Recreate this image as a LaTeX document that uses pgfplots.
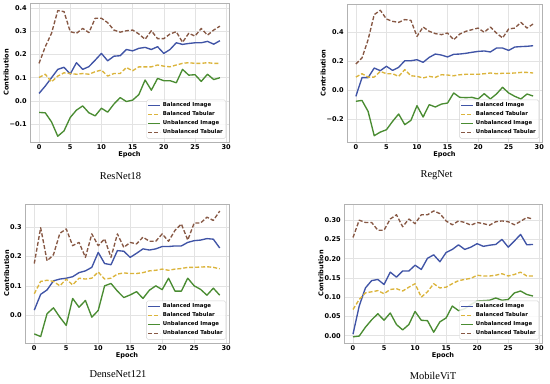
\documentclass[border=0pt]{standalone}
\usepackage{pgfplots}
\usepackage{pgfplotstable}
\pgfplotsset{compat=1.18}
\usepackage{fontspec}
\setmainfont{DejaVu Sans}
\newfontfamily\titlefont{Liberation Serif}

\definecolor{cBI}{RGB}{64,84,166}
\definecolor{cBT}{RGB}{219,180,60}
\definecolor{cUI}{RGB}{74,140,50}
\definecolor{cUT}{RGB}{135,88,68}

% epoch, balanced image, balanced tabular, unbalanced image, unbalanced tabular
\pgfplotstableread{
e bi bt ui ut
0 0.032 0.101 -0.050 0.162
1 0.064 0.115 -0.052 0.234
2 0.100 0.082 -0.091 0.292
3 0.136 0.107 -0.153 0.390
4 0.145 0.121 -0.130 0.386
5 0.116 0.118 -0.072 0.299
6 0.165 0.115 -0.040 0.292
7 0.136 0.118 -0.022 0.313
8 0.148 0.115 -0.052 0.295
9 0.176 0.126 -0.065 0.357
10 0.205 0.133 -0.032 0.357
11 0.173 0.107 -0.049 0.338
12 0.193 0.118 -0.014 0.306
13 0.195 0.118 0.014 0.297
14 0.222 0.144 -0.003 0.303
15 0.216 0.130 0.003 0.306
16 0.227 0.147 0.027 0.289
17 0.231 0.147 0.090 0.266
18 0.222 0.147 0.046 0.303
19 0.234 0.155 0.097 0.269
20 0.205 0.150 0.087 0.269
21 0.222 0.147 0.087 0.289
22 0.251 0.155 0.078 0.299
23 0.244 0.162 0.136 0.253
24 0.248 0.165 0.111 0.292
25 0.251 0.162 0.113 0.280
26 0.251 0.162 0.084 0.313
27 0.257 0.165 0.115 0.284
28 0.245 0.162 0.092 0.306
29 0.260 0.162 0.100 0.323
}\resnet

\pgfplotstableread{
e bi bt ui ut
0 -0.041 0.091 -0.075 0.181
1 0.087 0.114 -0.069 0.222
2 0.087 0.091 -0.144 0.347
3 0.153 0.091 -0.311 0.519
4 0.135 0.130 -0.286 0.549
5 0.165 0.114 -0.270 0.489
6 0.137 0.114 -0.213 0.473
7 0.158 0.096 -0.162 0.466
8 0.203 0.142 -0.235 0.485
9 0.203 0.100 -0.206 0.480
10 0.210 0.096 -0.105 0.370
11 0.192 0.085 -0.183 0.434
12 0.226 0.096 -0.098 0.405
13 0.249 0.089 -0.114 0.389
14 0.242 0.107 -0.094 0.382
15 0.229 0.105 -0.087 0.393
16 0.247 0.100 -0.018 0.347
17 0.249 0.107 -0.048 0.386
18 0.254 0.110 -0.050 0.405
19 0.261 0.110 -0.048 0.416
20 0.267 0.110 -0.059 0.427
21 0.270 0.114 -0.023 0.398
22 0.263 0.119 -0.059 0.434
23 0.290 0.114 -0.025 0.393
24 0.290 0.117 0.021 0.359
25 0.274 0.117 -0.018 0.421
26 0.297 0.119 -0.041 0.427
27 0.300 0.123 -0.059 0.466
28 0.302 0.123 -0.025 0.427
29 0.306 0.119 -0.039 0.455
}\regnet

\pgfplotstableread{
e bi bt ui ut
0 0.017 0.073 -0.064 0.176
1 0.071 0.115 -0.073 0.298
2 0.086 0.119 0.005 0.185
3 0.117 0.115 0.025 0.206
4 0.123 0.100 -0.007 0.279
5 0.126 0.123 -0.035 0.294
6 0.131 0.103 0.057 0.237
7 0.145 0.126 0.027 0.248
8 0.151 0.123 0.050 0.197
9 0.163 0.126 -0.007 0.277
10 0.214 0.147 0.016 0.237
11 0.176 0.123 0.100 0.260
12 0.172 0.126 0.108 0.197
13 0.220 0.140 0.082 0.277
14 0.218 0.144 0.060 0.231
15 0.197 0.142 0.069 0.248
16 0.211 0.142 0.080 0.243
17 0.226 0.145 0.057 0.266
18 0.222 0.151 0.085 0.252
19 0.226 0.153 0.100 0.252
20 0.234 0.157 0.087 0.277
21 0.234 0.153 0.126 0.252
22 0.236 0.157 0.082 0.289
23 0.236 0.159 0.082 0.311
24 0.248 0.163 0.126 0.256
25 0.254 0.163 0.100 0.314
26 0.256 0.164 0.088 0.314
27 0.261 0.165 0.068 0.334
28 0.259 0.163 0.092 0.323
29 0.229 0.158 0.068 0.355
}\densenet

\pgfplotstableread{
e bi bt ui ut
0 0.004 0.068 -0.003 0.255
1 0.077 0.094 -0.001 0.300
2 0.124 0.111 0.022 0.294
3 0.143 0.114 0.041 0.294
4 0.146 0.117 0.057 0.274
5 0.133 0.109 0.040 0.274
6 0.165 0.120 0.059 0.303
7 0.152 0.122 0.029 0.314
8 0.168 0.116 0.015 0.283
9 0.168 0.126 0.029 0.303
10 0.183 0.135 0.063 0.291
11 0.172 0.100 0.040 0.314
12 0.201 0.114 0.039 0.314
13 0.210 0.135 0.009 0.324
14 0.192 0.124 0.036 0.317
15 0.216 0.126 0.046 0.298
16 0.224 0.135 0.077 0.288
17 0.236 0.143 0.065 0.298
18 0.224 0.146 0.070 0.294
19 0.230 0.149 0.081 0.287
20 0.239 0.157 0.090 0.294
21 0.232 0.155 0.091 0.291
22 0.235 0.155 0.092 0.287
23 0.237 0.157 0.098 0.296
24 0.250 0.161 0.092 0.298
25 0.230 0.155 0.094 0.296
26 0.246 0.159 0.111 0.288
27 0.263 0.165 0.116 0.297
28 0.236 0.155 0.107 0.307
29 0.237 0.155 0.103 0.303
}\mobilevit

\pgfplotsset{
  panel/.style={
    scale only axis, anchor=south west,
    xmin=-1.45, xmax=30.45,
    xtick={0,5,10,15,20,25,30},
    xticklabels={0,5,10,15,20,25,30},
    grid=major,
    grid style={gray!22, line width=0.5bp},
    axis line style={gray!60, line width=0.7bp},
    major tick length=0pt,
    tick label style={font=\fontsize{6.6}{7}\selectfont\bfseries, black},
    xticklabel style={inner sep=1.5bp, yshift=-1bp},
    yticklabel style={inner sep=1.5bp, xshift=-1.5bp},
    label style={font=\fontsize{6.6}{7}\selectfont\bfseries},
    xlabel={Epoch}, ylabel={Contribution},
    xlabel style={yshift=3.5bp},
    ylabel style={yshift=-4bp},
    legend cell align=left,
    legend style={at={(rel axis cs:0.985,0.025)}, anchor=south east,
      font=\fontsize{5.4}{5.6}\selectfont\bfseries,
      draw=gray!35, rounded corners=1.5bp, fill=white, fill opacity=0.85, text opacity=1,
      inner sep=1bp, row sep=-0.6bp},
    legend image code/.code={\draw[##1] (0bp,0bp) -- (12bp,0bp);},
    every axis plot/.append style={line width=1.35bp, line join=round},
  },
  sBI/.style={cBI, solid},
  sBT/.style={cBT, dash pattern=on 4bp off 2bp},
  sUI/.style={cUI, solid},
  sUT/.style={cUT, dash pattern=on 4bp off 2bp},
}

\newcommand{\fourlines}[1]{%
  \addplot[sBI] table[x=e,y=bi]{#1}; \addlegendentry{Balanced Image}
  \addplot[sBT] table[x=e,y=bt]{#1}; \addlegendentry{Balanced Tabular}
  \addplot[sUI] table[x=e,y=ui]{#1}; \addlegendentry{Unbalanced Image}
  \addplot[sUT] table[x=e,y=ut]{#1}; \addlegendentry{Unbalanced Tabular}
}

\begin{document}
\begin{tikzpicture}
\path (0bp,0bp) rectangle (550bp,382bp);

\begin{axis}[panel, at={(30bp,240bp)}, width=199bp, height=139bp,
  ymin=-0.178, ymax=0.423,
  ytick={-0.1,0,0.1,0.2,0.3,0.4},
  yticklabels={−0.1,0.0,0.1,0.2,0.3,0.4}]
\fourlines{\resnet}
\end{axis}

\begin{axis}[panel, at={(347bp,240bp)}, width=195bp, height=138bp,
  ymin=-0.354, ymax=0.592,
  ytick={-0.2,0,0.2,0.4},
  yticklabels={−0.2,0.0,0.2,0.4}]
\fourlines{\regnet}
\end{axis}

\begin{axis}[panel, at={(25bp,39bp)}, width=204bp, height=139bp,
  ymin=-0.095, ymax=0.379,
  ytick={0,0.1,0.2,0.3},
  yticklabels={0.0,0.1,0.2,0.3}]
\fourlines{\densenet}
\end{axis}

\begin{axis}[panel, at={(344bp,39bp)}, width=198bp, height=139bp,
  ymin=-0.019, ymax=0.342,
  ytick={0,0.05,0.1,0.15,0.2,0.25,0.3},
  yticklabels={0.00,0.05,0.10,0.15,0.20,0.25,0.30}]
\fourlines{\mobilevit}
\end{axis}

\node[font=\titlefont\fontsize{10.5}{12}\selectfont] at (120.5bp,206bp) {ResNet18};
\node[font=\titlefont\fontsize{10.5}{12}\selectfont] at (436.5bp,207bp) {RegNet};
\node[font=\titlefont\fontsize{10.5}{12}\selectfont] at (118bp,8bp) {DenseNet121};
\node[font=\titlefont\fontsize{10.5}{12}\selectfont] at (433bp,6bp) {MobileViT};
\end{tikzpicture}
\end{document}
